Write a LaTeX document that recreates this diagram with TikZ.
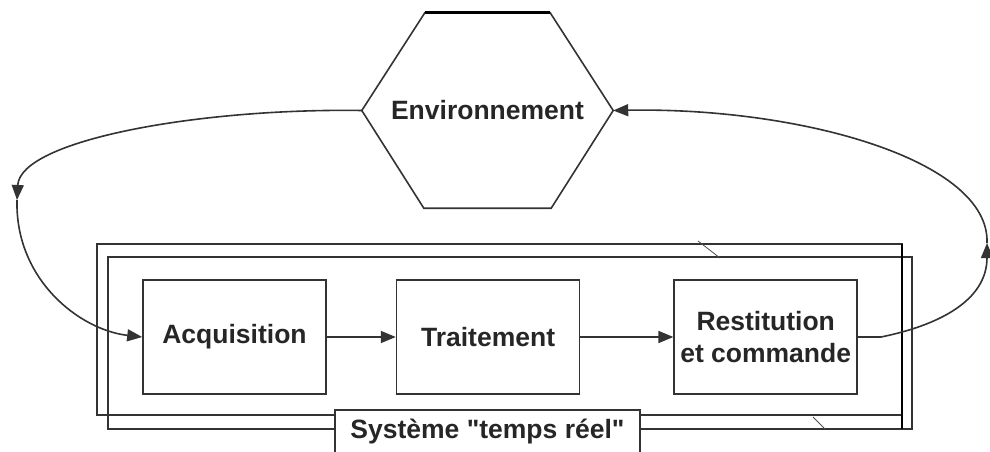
\documentclass[tikz,border=0pt]{standalone}
\usepackage{fontspec}
\setmainfont{Liberation Sans}[Ligatures=TeXOff]
\usetikzlibrary{arrows.meta,positioning}

\newcommand{\TextBloc}{\fontsize{26.5}{32}\selectfont\bfseries}
\tikzstyle{ColorLine1} = [draw=black!80,line width=1.6pt]
\tikzstyle{BoxBloc} = [ColorLine1,text=black!85,minimum width=183pt,minimum height=114pt,inner sep=0pt,align=center,font=\TextBloc]
\tikzstyle{ArrowFlow} = [ColorLine1,-{Triangle[length=15pt,width=12pt]}]

\begin{document}
\begin{tikzpicture}[x=1pt,y=-1pt]
\useasboundingbox (0,0) rectangle (990,452);
\clip (0,0) rectangle (990,452);

% environnement
\node[inner sep=0pt,minimum width=251pt,minimum height=195pt,text=black!85,font=\TextBloc] (env) at (487.5,110.5) {Environnement};
\draw[ColorLine1] (env.west) -- ([xshift=63pt]env.north west) -- ([xshift=-63pt]env.north east) -- (env.east)
  -- ([xshift=-62pt]env.south east) -- ([xshift=62pt]env.south west) -- cycle;
\draw[ColorLine1,line width=2.6pt,draw=black] ([xshift=63pt]env.north west) -- ([xshift=-63pt]env.north east);

% cadres du systeme
\draw[ColorLine1] (97,244) rectangle (902,415);
\draw[ColorLine1] (108,257) rectangle (912,429);
\draw[ColorLine1,draw=black,line width=2.4pt] (902,244) -- (902,429);
\draw[black!70,line width=0.8pt] (698,241) -- (720,258);
\draw[black!70,line width=0.8pt] (813,417) -- (825,429);

% blocs
\node[BoxBloc] (acq) at (234.5,337) {Acquisition};
\node[BoxBloc,right=69pt of acq] (trt) {Traitement};
\node[BoxBloc,right=93pt of trt] (rst) {Restitution\\et commande};

\draw[ArrowFlow] (acq) -- (trt);
\draw[ArrowFlow] (trt) -- (rst);

% boucle
\coordinate (lmid) at (17,200);
\coordinate (rmid) at (987,243);
\draw[ArrowFlow] (env.west) .. controls (200,108) and (20,140) .. (lmid);
\draw[ArrowFlow] (lmid) .. controls (15,280) and (80,330) .. (acq.west);
\draw[ArrowFlow] (rst.east) -- ++(23,0) .. controls (940,325) and (987,300) .. (rmid);
\draw[ArrowFlow] (rmid) .. controls (990,160) and (800,107) .. (env.east);

\node[ColorLine1,fill=white,text=black!85,minimum width=305pt,minimum height=44pt,inner sep=0pt,anchor=north,font=\TextBloc] (sys) at (487.5,409) {Système "temps réel"};

\end{tikzpicture}
\end{document}
